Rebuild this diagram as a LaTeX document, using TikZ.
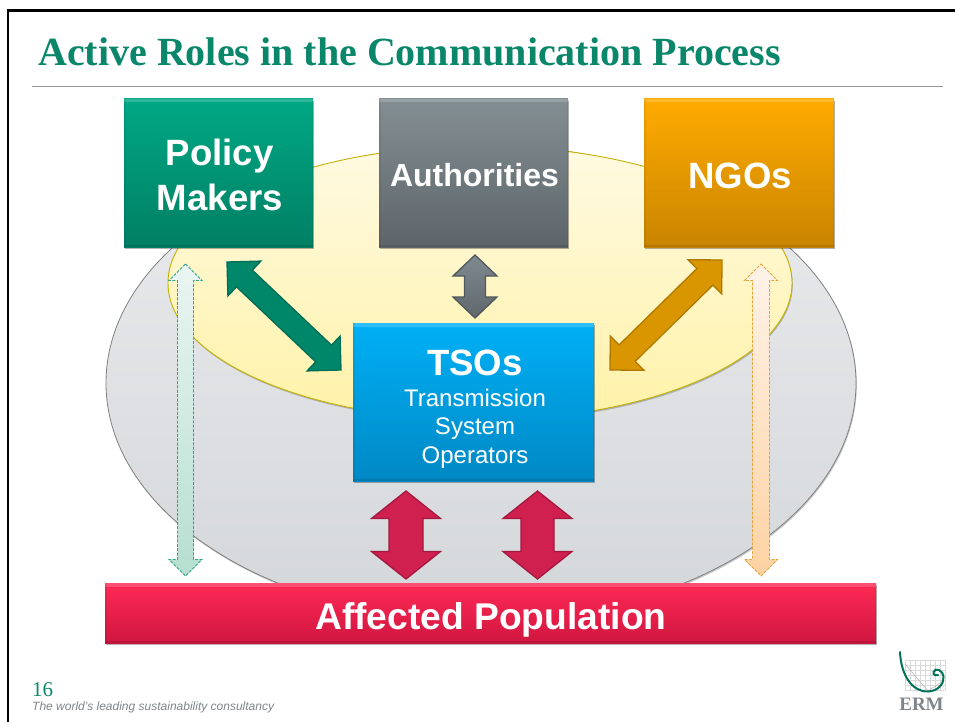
\documentclass[tikz,border=0pt]{standalone}
\usepackage{fontspec}
\setmainfont{Liberation Sans}
\newfontfamily\serifttl{Liberation Serif}
\usetikzlibrary{shadows,calc}
\definecolor{ttl}{HTML}{0A876B}
\definecolor{polA}{HTML}{00A884}\definecolor{polB}{HTML}{007F64}
\definecolor{autA}{HTML}{838E93}\definecolor{autB}{HTML}{5D656A}
\definecolor{ngoA}{HTML}{FFAB00}\definecolor{ngoB}{HTML}{C98500}
\definecolor{tsoA}{HTML}{00B0F6}\definecolor{tsoB}{HTML}{0088C4}
\definecolor{barA}{HTML}{FF2A55}\definecolor{barB}{HTML}{CF1640}
\definecolor{grayellA}{HTML}{EAEBED}\definecolor{grayellB}{HTML}{D4D7DA}
\definecolor{yelA}{HTML}{FFFAE2}\definecolor{yelB}{HTML}{FFF2A8}
\definecolor{yelLine}{HTML}{C4B000}
\definecolor{grnFill}{HTML}{00876A}\definecolor{grnLine}{HTML}{006E56}
\definecolor{orgFill}{HTML}{DA9600}\definecolor{orgLine}{HTML}{AF7800}
\definecolor{crmFill}{HTML}{CF2050}\definecolor{crmLine}{HTML}{A4183F}
\definecolor{gryA}{HTML}{7F8A90}\definecolor{gryB}{HTML}{5F676C}\definecolor{gryLine}{HTML}{50585C}
\definecolor{ltgA}{HTML}{EAF5F2}\definecolor{ltgB}{HTML}{B5DFD0}\definecolor{ltgLine}{HTML}{2FA388}
\definecolor{ltoA}{HTML}{FEF3E9}\definecolor{ltoB}{HTML}{FDD2A2}\definecolor{ltoLine}{HTML}{E5A33A}
\definecolor{footgray}{HTML}{7E858A}
\tikzset{
  softshadow/.style={drop shadow={shadow xshift=0.8pt,shadow yshift=-1.6pt,opacity=.22,fill=black}},
  cardshadow/.style={drop shadow={shadow xshift=.8pt,shadow yshift=-1.6pt,opacity=.3,fill=black}},
  card/.style n args={4}{cardshadow,anchor=north west,inner sep=0pt,outer sep=0pt,
    minimum width=#1,minimum height=#2,top color=#3,bottom color=#4,
    path picture={
      \fill[white,opacity=.18] (path picture bounding box.north west) rectangle ([yshift=-3.5pt]path picture bounding box.north east);
      \fill[black,opacity=.1] (path picture bounding box.south west) rectangle ([yshift=2.5pt]path picture bounding box.south east);
      \fill[black,opacity=.06] (path picture bounding box.south west) rectangle ([xshift=1.5pt]path picture bounding box.north west);
      \fill[black,opacity=.06] (path picture bounding box.south east) rectangle ([xshift=-1.5pt]path picture bounding box.north east);
    }},
  lbl/.style={text=white,font=\bfseries\fontsize{#1}{#1}\selectfont,anchor=base,inner sep=0pt},
  plainlbl/.style={text=white,font=\fontsize{24}{24}\selectfont,anchor=base,inner sep=0pt},
  solidarrow/.style n args={2}{fill=#1,draw=#2,line width=1.3pt,miter limit=10},
  gradarrow/.style n args={3}{top color=#1,bottom color=#2,draw=#3,line width=1.3pt,miter limit=10},
  faintarrow/.style n args={3}{top color=#1,bottom color=#2,draw=#3,line width=.9pt,dash pattern=on 3pt off 1.4pt,miter limit=10},
}
% style, tip A, tip B, head length, head half width, shaft half width
\newcommand{\blockarrow}[6]{%
  \path[#1] (#2)
   -- ($(#2)!#4!(#3)!#5!90:(#3)$) -- ($(#2)!#4!(#3)!#6!90:(#3)$)
   -- ($(#3)!#4!(#2)!#6!-90:(#2)$) -- ($(#3)!#4!(#2)!#5!-90:(#2)$)
   -- (#3)
   -- ($(#3)!#4!(#2)!#5!90:(#2)$) -- ($(#3)!#4!(#2)!#6!90:(#2)$)
   -- ($(#2)!#4!(#3)!#6!-90:(#3)$) -- ($(#2)!#4!(#3)!#5!-90:(#3)$)
   -- cycle;}
\begin{document}
\begin{tikzpicture}[x=1pt,y=-1pt]
\useasboundingbox (0,0) rectangle (955,722);
\fill[white] (0,0) rectangle (955,722);
\draw[line width=2.4pt,black] (7.8,722) -- (7.8,10.6) -- (955,10.6);
\node[anchor=base west,inner sep=0pt,text=ttl,font=\serifttl\bfseries\fontsize{40}{42}\selectfont] (title) at (38,66) {Active Roles in the Communication Process};
\draw[line width=.9pt,black!40] (32,86) -- (943,86);
% ellipses
\path[softshadow,draw=black!50,line width=.8pt,top color=grayellA,bottom color=grayellB] (481,383) ellipse [x radius=375,y radius=238];
\path[softshadow,draw=yelLine,line width=.9pt,top color=yelA,bottom color=yelB] (480,283) ellipse [x radius=312,y radius=137];
% boxes
\node[card={189pt}{148pt}{polA}{polB}] (policy) at (124,99) {};
\node[card={189pt}{148pt}{autA}{autB}] (auth) at (379,99) {};
\node[card={190pt}{148pt}{ngoA}{ngoB}] (ngo) at (644,99) {};
\node[card={241pt}{158pt}{tsoA}{tsoB}] (tso) at (353,323) {};
\node[card={771pt}{60pt}{barA}{barB}] (bar) at (105,583) {};
% labels
\node[lbl=36.6] (l1) at (219.5,166) {Policy};
\node[lbl=36.6] (l2) at (220,211) {Makers};
\node[lbl=32] (l3) at (474.5,186) {Authorities};
\node[lbl=36.6] (l4) at (740,189) {NGOs};
\node[lbl=36.6] (l5) at (475,375) {TSOs};
\node[plainlbl] (l6) at (475,406) {Transmission};
\node[plainlbl] (l7) at (475,434) {System};
\node[plainlbl] (l8) at (475,463) {Operators};
\node[lbl=37.2] (l9) at (491,629) {Affected Population};
% block arrows
\coordinate (gA) at (227,262); \coordinate (gB) at (341,370);
\blockarrow{solidarrow={grnFill}{grnLine}}{gA}{gB}{24pt}{24pt}{11.5pt}
\coordinate (oA) at (722,260); \coordinate (oB) at (610,370);
\blockarrow{solidarrow={orgFill}{orgLine}}{oA}{oB}{24pt}{24pt}{11.5pt}
\coordinate (aA) at (475,255); \coordinate (aB) at (475,318);
\blockarrow{gradarrow={gryA}{gryB}{gryLine}}{aA}{aB}{21pt}{22pt}{10.5pt}
\coordinate (c1A) at (406,491); \coordinate (c1B) at (406,579);
\blockarrow{solidarrow={crmFill}{crmLine}}{c1A}{c1B}{27.5pt}{34.5pt}{17pt}
\coordinate (c2A) at (537.5,491); \coordinate (c2B) at (537.5,579);
\blockarrow{solidarrow={crmFill}{crmLine}}{c2A}{c2B}{27.5pt}{34.5pt}{16.5pt}
\coordinate (lgA) at (185.5,264); \coordinate (lgB) at (185.5,576);
\blockarrow{faintarrow={ltgA}{ltgB}{ltgLine}}{lgA}{lgB}{16.5pt}{16.5pt}{8pt}
\coordinate (loA) at (761,264); \coordinate (loB) at (761,576);
\blockarrow{faintarrow={ltoA}{ltoB}{ltoLine}}{loA}{loB}{16.5pt}{16.5pt}{8.5pt}
% footer
\node[anchor=base west,inner sep=0pt,text=ttl,font=\serifttl\fontsize{21}{21}\selectfont] (page) at (32,696) {16};
\node[anchor=base west,inner sep=0pt,text=footgray,font=\itshape\fontsize{12}{12}\selectfont] (foot) at (32,710) {The world's leading sustainability consultancy};
% logo
\draw[black!15,line width=.5pt,step=5pt] (905,660) grid (945,690);
\draw[black!30,line width=.5pt] (905,664) -- (928,691) -- (943,681);
\draw[grnLine!80!ttl,line width=2pt,line cap=round] (900,652) .. controls (901,675) and (912,692) .. (928,691.5) .. controls (938,691) and (944,684) .. (943.5,677) .. controls (943,670) and (935,667) .. (933.5,672) .. controls (933,675) and (936,676) .. (938,675);
\node[anchor=base,inner sep=0pt,text=footgray,font=\serifttl\bfseries\fontsize{19}{19}\selectfont] (erm) at (921.5,710) {ERM};
\end{tikzpicture}
\end{document}
